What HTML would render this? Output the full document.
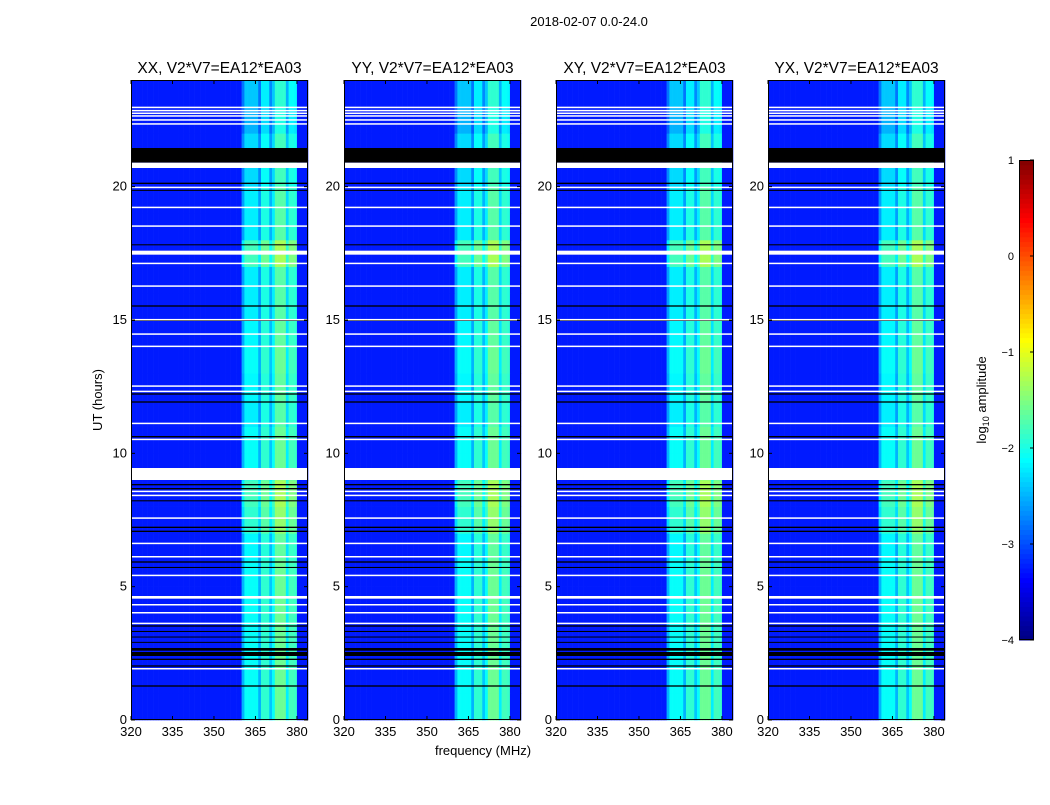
<!DOCTYPE html>
<html><head><meta charset="utf-8"><style>
body{margin:0;background:#fff;font-family:"Liberation Sans",sans-serif}
svg text{font-family:"Liberation Sans",sans-serif}
</style></head><body>
<svg id="fig" width="1050" height="800" xmlns="http://www.w3.org/2000/svg">
<rect width="1050" height="800" fill="#fff"/>
<text x="589" y="26" font-size="13" text-anchor="middle">2018-02-07 0.0-24.0</text>
<text x="483" y="755" font-size="13" text-anchor="middle">frequency (MHz)</text>
<text transform="translate(102,400) rotate(-90)" font-size="13" text-anchor="middle">UT (hours)</text>
<g id="panels"></g>
<g id="cbar"></g>
<text transform="translate(986,400) rotate(-90)" font-size="13" text-anchor="middle">log<tspan font-size="9" dy="3">10</tspan><tspan dy="-3"> amplitude</tspan></text>
</svg>
<script>
// ---- data ----
const panelTitles = ["XX, V2*V7=EA12*EA03","YY, V2*V7=EA12*EA03","XY, V2*V7=EA12*EA03","YX, V2*V7=EA12*EA03"];
const panelLeft = [131, 344, 556, 768];
const freqStart = 320, freqEnd = 384;
// log10 amplitude per 1 MHz channel, 320..383
const channelLevel = [
-3.25,-3.25,-3.25,-3.25,-3.25,-3.25,-3.25,-3.25,-3.25,-3.25,
-3.25,-3.25,-3.25,-3.25,-3.25,-3.25,-3.25,-3.25,-3.25,-3.25,
-3.25,-3.25,-3.25,-3.25,-3.25,-3.25,-3.25,-3.25,-3.25,-3.25,
-3.25,-3.25,-3.25,-3.25,-3.25,-3.25,-3.25,-3.25,-3.25,-3.25,
-2.6,-2.2,-2.2,-2.2,-2.2,-2.2,-2.6,-2.0,-2.0,-2.0,
-2.5,-2.2,-1.7,-1.7,-1.7,-1.7,-2.3,-1.9,-1.9,-1.95,
-3.25,-3.25,-3.25,-3.25];
// band brightening per hour (0..23)
const hourOffset = [0.1,0.1,0.1,0.1,0.1,0.1,0.05,0.3,0.4,0.1,0.1,0,0.05,0.1,0.05,0,0,0.4,0,0,-0.1,-0.1,-0.3,-0.2];
// flagged intervals [startHour, endHour]
const whiteRows = [[22.95,23.0],[22.85,22.88],[22.75,22.78],[22.65,22.68],[22.5,22.53],[22.35,22.38],[20.7,20.9],[19.95,20.0],[19.2,19.25],[18.5,18.55],[17.45,17.6],[17.1,17.15],[16.25,16.3],[15.0,15.04],[14.45,14.5],[14.0,14.04],[12.5,12.55],[12.3,12.35],[11.1,11.15],[10.5,10.55],[9.0,9.45],[8.55,8.6],[8.4,8.45],[7.55,7.6],[6.6,6.65],[6.1,6.15],[5.4,5.45],[4.55,4.65],[4.3,4.35],[4.0,4.05],[3.6,3.65],[1.9,1.95]];
const blackRows = [[20.9,21.45],[20.1,20.15],[19.85,19.88],[17.8,17.84],[15.5,15.55],[14.97,15.0],[12.2,12.25],[11.9,11.95],[10.6,10.65],[8.8,8.85],[8.65,8.7],[8.2,8.24],[7.2,7.25],[7.05,7.1],[5.9,5.95],[5.7,5.74],[3.5,3.55],[3.3,3.34],[3.1,3.13],[2.9,2.93],[2.6,2.7],[2.4,2.55],[2.25,2.3],[2.0,2.05],[1.25,1.3]];
const xTicks = [320,335,350,365,380];
const yTicks = [0,5,10,15,20];
const cbarTicks = [1,0,-1,-2,-3,-4];
const cbarTickLabels = ["1","0","\u22121","\u22122","\u22123","\u22124"];
// ---- geometry ----
const pw = 177, axTop = 80, axBottom = 720, vmin = -4, vmax = 1;
const NS = "http://www.w3.org/2000/svg";
function el(t, a, p){const e=document.createElementNS(NS,t);for(const k in a)e.setAttribute(k,a[k]);p.appendChild(e);return e;}
function jet(v){let t=(v-vmin)/(vmax-vmin);t=Math.max(0,Math.min(1,t));
 const c=x=>Math.round(255*Math.max(0,Math.min(1,1.5-Math.abs(4*t-x))));
 return `rgb(${c(3)},${c(2)},${c(1)})`;}
const yScale = h => axBottom - h*(axBottom-axTop)/24;
const panelsG = document.getElementById('panels');
panelLeft.forEach((L, pi) => {
 const xScale = f => L + (f-freqStart)*pw/(freqEnd-freqStart);
 const g = el('g', {}, panelsG);
 
 
 for (let h=0; h<24; h++) {
  channelLevel.forEach((lv, ci) => {
   const f = freqStart + ci;
   const v = lv > -3 ? lv + hourOffset[h] : lv;
   const r = el('rect', {x:xScale(f), y:yScale(h+1), width:xScale(f+1)-xScale(f)+0.3, height:yScale(h)-yScale(h+1)+0.3, fill:jet(v)}, g);
   
   
  });
 }
 blackRows.forEach(([a,b]) => {
  const lo=Math.min(a,b), hi=Math.max(a,b);
  const r = el('rect', {x:L, y:yScale(hi), width:pw, height:Math.max(1,yScale(lo)-yScale(hi)), fill:'#000'}, g);
  
  
 });
 whiteRows.forEach(([a,b]) => {
  const lo=Math.min(a,b), hi=Math.max(a,b);
  const r = el('rect', {x:L, y:yScale(hi), width:pw, height:Math.max(1.5,yScale(lo)-yScale(hi)), fill:'#fff'}, g);
  
  
 });
 const fr = el('rect', {x:L+0.5, y:axTop+0.5, width:pw-1, height:axBottom-axTop-1, fill:'none', stroke:'#000', 'stroke-width':1}, g);
 
 
 xTicks.forEach(t => {
  const x = xScale(t);
  el('line', {x1:x, y1:axBottom, x2:x, y2:axBottom-4, stroke:'#000'}, g);
  el('line', {x1:x, y1:axTop, x2:x, y2:axTop+4, stroke:'#000'}, g);
  const tx = el('text', {x:x, y:axBottom+16, 'font-size':13, 'text-anchor':'middle'}, g);
  tx.textContent = t;
  
  
 });
 yTicks.forEach(t => {
  const y = yScale(t);
  el('line', {x1:L, y1:y, x2:L+4, y2:y, stroke:'#000'}, g);
  el('line', {x1:L+pw, y1:y, x2:L+pw-4, y2:y, stroke:'#000'}, g);
  const tx = el('text', {x:L-4, y:y+4, 'font-size':13, 'text-anchor':'end'}, g);
  tx.textContent = t;
  
  
 });
 const tt = el('text', {x:L+pw/2, y:axTop-7, 'font-size':15.5, 'text-anchor':'middle'}, g);
 tt.textContent = panelTitles[pi];
 
 
});
// colorbar
const cb = document.getElementById('cbar');
const cbx=1019, cbw=15, cbt=160, cbb=640;
const cbY = v => cbb - (v-vmin)*(cbb-cbt)/(vmax-vmin);
for (let i=0;i<100;i++){
 const v = vmin + (i+0.5)*(vmax-vmin)/100;
 el('rect', {x:cbx, y:cbY(v)-(cbb-cbt)/200, width:cbw, height:(cbb-cbt)/100+0.5, fill:jet(v)}, cb);
}
el('rect', {x:cbx+0.5, y:cbt+0.5, width:cbw-1, height:cbb-cbt-1, fill:'none', stroke:'#000'}, cb);
cbarTicks.forEach((t,i) => {
 const y = cbY(t);
 el('line', {x1:cbx+cbw-4, y1:y, x2:cbx+cbw, y2:y, stroke:'#000'}, cb);
 const tx = el('text', {x:cbx-5, y:y+4, 'font-size':11, 'text-anchor':'end'}, cb);
 tx.textContent = cbarTickLabels[i];
 
 
});
</script>
</body></html>
